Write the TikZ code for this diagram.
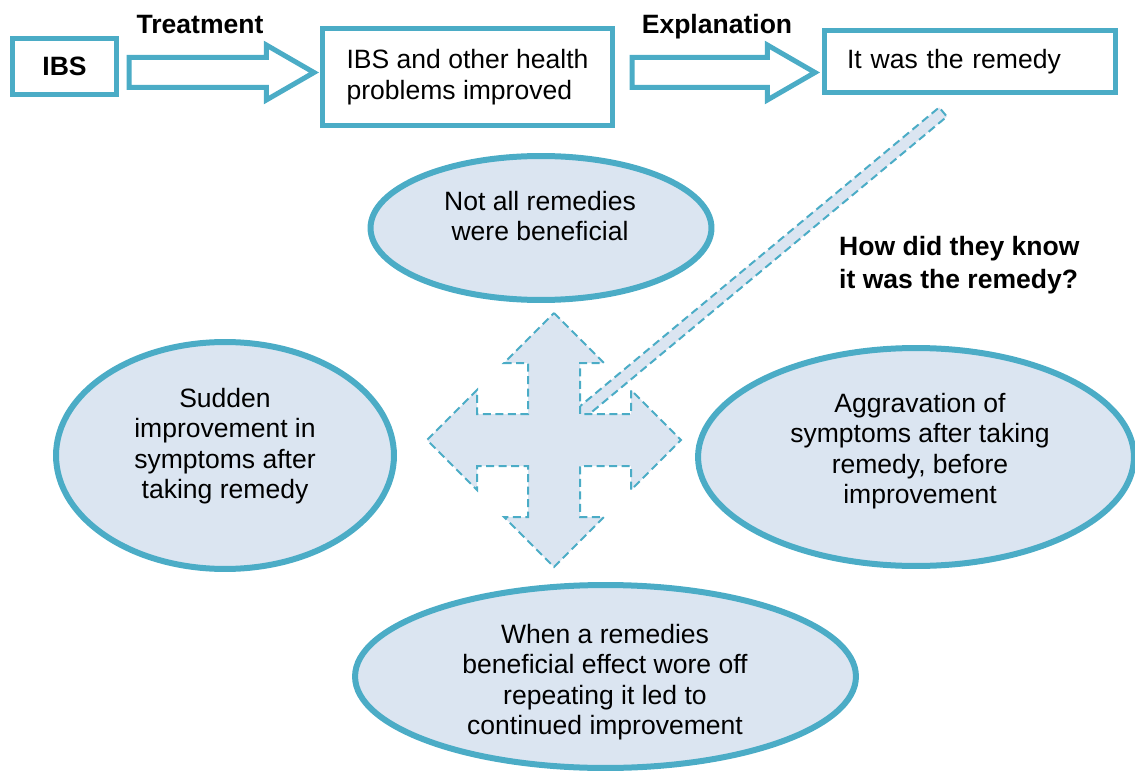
\documentclass[tikz,border=0pt]{standalone}
\usepackage{fontspec}
\setmainfont{Liberation Sans}
\usetikzlibrary{shapes.geometric,shapes.arrows,calc}

\definecolor{rimblue}{HTML}{4BACC6}
\definecolor{paleblue}{HTML}{DBE5F1}

\begin{document}
\begin{tikzpicture}[
    x=0.02cm, y=-0.02cm,
    every node/.style={font=\fontsize{15.1}{17.4}\selectfont},
    box/.style={draw=rimblue, line width=0.1cm, fill=white, inner ysep=0pt},
    fat/.style={single arrow, draw=rimblue, line width=0.1cm, fill=white,
                inner xsep=0pt, inner ysep=0.25cm, minimum width=1cm,
                single arrow head extend=0.25cm, single arrow tip angle=60, anchor=tail},
    oval/.style={ellipse, draw=rimblue, line width=0.12cm, fill=paleblue, inner sep=0pt},
    cross/.style={fill=paleblue, draw=rimblue, line width=0.04cm,
                  dash pattern=on 0.16cm off 0.09cm},
    tag/.style={font=\fontsize{15.1}{17.4}\selectfont\bfseries}
  ]
  \useasboundingbox (0,0) rectangle (1135,773);

  %% ---- top row ----
  \node[box, tag, minimum width=2.08cm, minimum height=1.12cm] (ibs) at (64.5,66.5) {IBS};
  \node[box, align=left, minimum width=5.8cm, minimum height=1.94cm] (better) at (467.5,77)
    {IBS and other health\\problems improved};
  \node[box, align=left, text width=4.92cm, inner xsep=0.45cm, minimum height=1.24cm] (remedy)
    at (970,61.5) {It was the remedy};

  \node[fat, minimum height=3.7cm]  (treat) at (126.5,72.5) {};
  \node[fat, minimum height=3.66cm] (expl)  at (629.5,72.5) {};
  \node[tag] at (200,25) {Treatment};
  \node[tag] at (717,27) {Explanation};

  %% ---- question link ----
  \coordinate (hint) at (943,112);
  \coordinate (hub)  at (580,414);
  \filldraw[cross] ($(hub)!0.12cm!90:(hint)$) -- ($(hint)!0.12cm!-90:(hub)$)
    -- ($(hint)!0.12cm!90:(hub)$) -- ($(hub)!0.12cm!-90:(hint)$) -- cycle;
  \node[tag, align=left, anchor=west, font=\fontsize{15.1}{18.8}\selectfont\bfseries]
    (ask) at (833,265) {How did they know\\it was the remedy?};

  %% ---- four way arrow ----
  \begin{scope}[shift={(554,440)}]
    \filldraw[cross] (0,-127) -- (50,-77) -- (26,-77) -- (26,-26) -- (77,-26) -- (77,-50)
      -- (127,0) -- (77,50) -- (77,26) -- (26,26) -- (26,77) -- (50,77) -- (0,127)
      -- (-50,77) -- (-26,77) -- (-26,26) -- (-77,26) -- (-77,50) -- (-127,0)
      -- (-77,-50) -- (-77,-26) -- (-26,-26) -- (-26,-77) -- (-50,-77) -- cycle;
  \end{scope}

  %% ---- the four ovals ----
  \node[oval, minimum width=6.82cm, minimum height=2.88cm] (notall) at (541,228) {};
  \node[align=center] at (540,216) {Not all remedies\\were beneficial};

  \node[oval, minimum width=6.76cm, minimum height=4.54cm] (sudden) at (225,455.5) {};
  \node[align=center] at (225,446) {Sudden\\improvement in\\symptoms after\\taking remedy};

  \node[oval, minimum width=8.72cm, minimum height=4.36cm] (worse) at (916,457) {};
  \node[align=center] at (920,451) {Aggravation of\\symptoms after taking\\remedy, before\\improvement};

  \node[oval, minimum width=10.02cm, minimum height=3.66cm] (repeat) at (605.5,676.5) {};
  \node[align=center] at (605,682) {When a remedies\\beneficial effect wore off\\repeating it led to\\continued improvement};

\end{tikzpicture}
\end{document}
